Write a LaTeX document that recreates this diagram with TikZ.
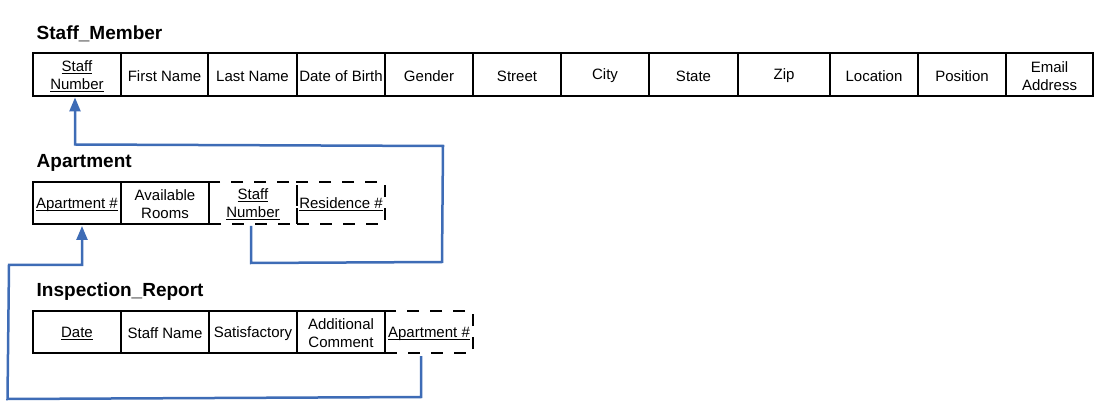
\documentclass[tikz,border=0pt]{standalone}
\usepackage{fontspec}
\setmainfont{Liberation Sans}
\usetikzlibrary{arrows.meta}
\definecolor{linkblue}{RGB}{62,108,182}
\newcommand\ulk[1]{\setbox0\hbox{#1}\rlap{\rule[-2.4pt]{\wd0}{0.9pt}}\box0}
\tikzset{
  cell/.style={draw=black, line width=2pt, minimum height=43pt, inner sep=0pt,
    align=center, font=\fontsize{15}{17.8}\selectfont, text=black, text height=14pt},
  two/.style={text height=31.7pt},
  dcell/.style={cell, dash pattern=on 12pt off 11pt},
  title/.style={anchor=base west, inner sep=0pt, font=\fontsize{19}{22}\selectfont\bfseries},
  conn/.style={draw=linkblue, line width=2.5pt},
  tip/.style={-{Triangle[length=14pt,width=11pt]}}
}
\begin{document}
\begin{tikzpicture}[x=1pt,y=-1pt]
\useasboundingbox (0,0) rectangle (1115,411);
% Staff_Member
\node[title] (t1) at (36.5,39.5) {Staff\_Member};
\node[cell, two, minimum width=88pt] (s1) at (77,74.5) {\ulk{Staff}\\\ulk{Number}};
\node[cell, minimum width=87pt] (s2) at (164.5,74.5) {First Name};
\node[cell, minimum width=89pt] (s3) at (252.5,74.5) {Last Name};
\node[cell, minimum width=88pt] (s4) at (341,74.5) {Date of Birth};
\node[cell, minimum width=88pt] (s5) at (429,74.5) {Gender};
\node[cell, minimum width=88pt] (s6) at (517,74.5) {Street};
\node[cell, minimum width=88pt] (s7) at (605,74.5) {City};
\node[cell, minimum width=89pt] (s8) at (693.5,74.5) {State};
\node[cell, minimum width=92pt] (s9) at (784,74.5) {Zip};
\node[cell, minimum width=88pt] (s10) at (874,74.5) {Location};
\node[cell, minimum width=88pt] (s11) at (962,74.5) {Position};
\node[cell, two, minimum width=87pt] (s12) at (1049.5,74.5) {Email\\Address};
% Apartment
\node[title] (t2) at (36.5,167.5) {Apartment};
\node[cell, minimum width=88pt, minimum height=42pt] (a1) at (77,203) {\ulk{Apartment \#}};
\node[cell, two, minimum width=88pt, minimum height=42pt] (a2) at (165,203) {Available\\Rooms};
\node[dcell, two, minimum width=88pt, minimum height=42pt] (a3) at (253,203) {\ulk{Staff}\\\ulk{Number}};
\node[dcell, minimum width=88pt, minimum height=42pt] (a4) at (341,203) {\ulk{Residence \#}};
% Inspection_Report
\node[title] (t3) at (36.5,297) {Inspection\_Report};
\node[cell, minimum width=88pt, minimum height=42pt] (i1) at (77,332) {\ulk{Date}};
\node[cell, minimum width=88pt, minimum height=42pt] (i2) at (165,332) {Staff Name};
\node[cell, minimum width=88pt, minimum height=42pt] (i3) at (253,332) {Satisfactory};
\node[cell, two, minimum width=88pt, minimum height=42pt] (i4) at (341,332) {Additional\\Comment};
\node[dcell, minimum width=88pt, minimum height=42pt] (i5) at (429,332) {\ulk{Apartment \#}};
% connectors
\coordinate (p1) at (251,263);
\coordinate (p2) at (442,262);
\coordinate (p3) at (443,146);
\coordinate (p4) at (75,144.5);
\draw[conn, tip] ([xshift=-2pt,yshift=-1pt]a3.south) -- (p1) -- (p2) -- (p3) -- (p4) -- ([xshift=-2pt,yshift=-0.5pt]s1.south);
\coordinate (q1) at (421,397);
\coordinate (q2) at (7.5,399);
\coordinate (q3) at (9,265);
\coordinate (q4) at (82,265);
\draw[conn, tip] ([xshift=-8pt,yshift=-2pt]i5.south) -- (q1) -- (q2) -- (q3) -- (q4) -- ([xshift=5pt,yshift=-1pt]a1.south);
\end{tikzpicture}
\end{document}
